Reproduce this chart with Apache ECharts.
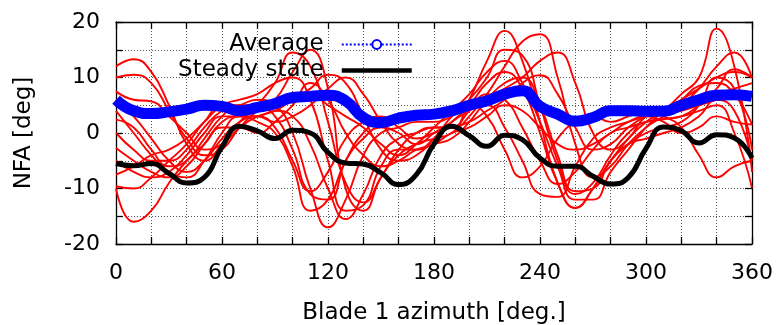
<!DOCTYPE html>
<html>
<head>
<meta charset="utf-8">
<script src="https://cdn.jsdelivr.net/npm/echarts@6/dist/echarts.min.js"></script>
<style>
html, body { margin: 0; padding: 0; background: #fff; }
#chart { width: 779px; height: 325px; }
</style>
</head>
<body>
<div id="chart"></div>
<script>
var azimuth = [0, 10, 20, 30, 40, 50, 60, 70, 80, 90, 100, 110, 120, 130, 140, 150, 160, 170, 180,
  190, 200, 210, 220, 230, 240, 250, 260, 270, 280, 290, 300, 310, 320, 330, 340, 350, 360];

var average = [6.0, 4.0, 3.5, 3.8, 4.3, 5.0, 4.8, 4.0, 4.6, 5.3, 6.4, 6.6, 6.8, 5.8, 2.8, 1.9, 2.7, 3.2, 3.4,
  4.0, 5.0, 5.8, 7.0, 7.6, 4.8, 3.4, 2.1, 2.8, 4.0, 4.0, 3.9, 3.9, 5.0, 6.0, 6.8, 6.9, 6.6];

var steady = [-5.5, -5.9, -5.5, -7.3, -9.0, -8.0, -2.5, 1.2, 0.4, -1.0, 0.5, 0.0, -3.5, -5.4, -5.6, -7.2, -9.3, -7.5, -2.0,
  1.2, -0.5, -2.4, -0.4, -1.2, -4.5, -6.0, -6.0, -7.8, -9.2, -8.0, -2.8, 1.1, 0.4, -1.8, -0.3, -0.9, -4.5];

// individual revolutions
var run1 = [12, 13.3, 11, 5, -2, -5, -2, 2, 5, 9, 14.5, 12, 2, -9, -12.5, -8, -3, 0, 1,
  1, 6, 13, 18.4, 13, 2, -9, -13.5, -10, -5, -1, 2, 4, 7, 10, 18.8, 12, -7];
var run2 = [10, 10.5, 9, 4, -1, -4, -3, 1, 4, 6, 11, 15, 8, -10, -14, -8, -4, -2, -1,
  0, 3, 7, 12, 16.5, 17.8, 10, -2, -8, -6, -2, 1, 3, 5, 8, 12, 14.5, 9.9];
var run3 = [7.5, 6, 5.7, 3, 0, -3, -2, 1, 3, 4, 6, 8, 10.5, 9, 3, -3, -5, -4, -1,
  3, 6, 10, 15, 14, 5, -5, -11, -9, -4, 0, 2, 2.5, 3, 5, 8, 11.5, 10];
var run4 = [6, 3, -1, -5, -7, -5, -1, 2, 3, 2, 3, 5, 8, 10, 7, 2, -2, -3, -1,
  2, 4, 6, 8, 10, 13, 14.5, 9, 0, -3, -1, 3, 4, 6, 8.5, 9, 7, 1.5];
var run5 = [4, 0, -4, -7, -8, -5, 0, 3, 3, 1, -5, -10.5, -7, -1, 2, 3, 1, -1, 0,
  1, 2, 4, 6, 9, 10.4, 7, 1, -3, -2, 1, 3, 4, 5, 6, 7, 8, 9];
var run6 = [2.4, 1, -3, -6, -5, -1, 3, 5, 5, 3, -3, -11, -12, -5, 0, 2, 2, 3, 4,
  4, 5, 3, -3, -8, -6, -1, 2, 3, 2, 3, 4, 3, 1, -4, -8, -6, -5];
var run7 = [0, -3, -5, -5, -3, 1, 4, 5, 6, 5, 0, -10, -17, -12, -4, 0, 1, 2, 2,
  3, 5, 5, 1, -5, -11, -11.5, -6, -1, 1, 2, 3, 3.5, 4, 5, 6, 7, 7.2];
var run8 = [-2.7, -5, -7, -8, -6, -2, 2, 3, 3, 4, 3, -2, -10, -15.5, -11, -4, -1, 0, 1,
  1, 4, 7, 6, 1, -5, -9.2, -7, -3, 0, 1, 2, 2.5, 3, 4, 5, 0, -9.9];
var run9 = [-5, -7, -8, -7, -4, 0, 3, 3, 2, 0, -6, -14, -12, -5, -1, 1, 0, -2, 0,
  2, 5, 9, 11, 8, 0, -9, -13.5, -10, -5, -2, 0, 1, 2, 5, 10, 8, -3];
var run10 = [-7.5, -6, -4, -3, -1, 2, 5, 6, 7, 9, 10, 6, -5, -14, -13, -6, -3, -3, -2,
  -1, 2, 6, 9, 10, 5, -4, -10.5, -10, -5, -2, -1, 0, 1, 3, 6, 4, -5];
var run11 = [-9.6, -10, -8, -5, -2, 2, 5, 5, 4, 5, 7, 7, 5, 3, 1, -2, -4, -2, 1,
  4, 7, 11, 13, 9, 2, -6, -12, -12, -7, -3, 1, 4, 6, 8, 10, 11, 10];
var run12 = [-10, -16, -14, -9, -5, -2, 1, 1, 0, 2, 5, 9, 6, 0, -4, -6, -5, -3, -2,
  0, 1, 3, 5, 4, 1, -2, -3, -2, 0, 2, 3, 2, 0, 1, 3, 2, 1.5];

var runs = [run1, run2, run3, run4, run5, run6, run7, run8, run9, run10, run11, run12];

var font = 'DejaVu Sans';
var dots = { color: '#555', width: 1, type: [1, 2] };
var black = { color: '#000', width: 1.3 };

function pairs(vals) {
  return azimuth.map(function (a, i) { return [a, vals[i]]; });
}

var series = runs.map(function (r, i) {
  return {
    name: 'run' + (i + 1),
    type: 'line',
    data: pairs(r),
    smooth: 0.5,
    symbol: 'none',
    lineStyle: { color: '#ff0000', width: 1.9 },
    z: 2
  };
});
series.push({
  name: 'Steady state',
  type: 'line',
  data: pairs(steady),
  smooth: 0.5,
  symbol: 'none',
  itemStyle: { color: '#000' },
  lineStyle: { color: '#000', width: 5 },
  z: 3
});
series.push({
  name: 'Average',
  type: 'line',
  data: pairs(average),
  smooth: 0.5,
  symbol: 'emptyCircle',
  showSymbol: false,
  itemStyle: { color: '#0000ff' },
  lineStyle: { color: '#0000ff', width: 11 },
  z: 4
});

// label only every 60 deg / 10 deg, ticks and grid at 20 deg / 5 deg
function xLab(v) { return v % 60 === 0 ? String(v) : ''; }
function yLab(v) { return v % 10 === 0 ? String(v) : ''; }

var frameAxis = {
  axisLine: { show: true, onZero: false, lineStyle: black },
  axisTick: { show: true, inside: true, length: 7, lineStyle: black },
  axisLabel: { show: false },
  splitLine: { show: false }
};

var chart = echarts.init(document.getElementById('chart'), null, { renderer: 'canvas' });
chart.setOption({
  animation: false,
  backgroundColor: '#fff',
  grid: { left: 116, right: 27, top: 22, bottom: 81, outerBoundsMode: 'none' },
  legend: {
    orient: 'vertical',
    align: 'right',
    right: 360,
    top: 28,
    itemGap: 3,
    itemWidth: 70,
    itemHeight: 11,
    textStyle: { fontFamily: font, fontSize: 23, color: '#000', padding: [0, 13, 0, 0] },
    data: [
      { name: 'Average', lineStyle: { width: 2, type: [2, 2] } },
      { name: 'Steady state', lineStyle: { width: 4.5 }, itemStyle: { opacity: 0 } }
    ]
  },
  xAxis: [{
    type: 'value', min: 0, max: 360, interval: 20,
    name: 'Blade 1 azimuth [deg.]', nameLocation: 'middle', nameGap: 58,
    nameTextStyle: { fontFamily: font, fontSize: 23, color: '#000' },
    axisLine: { show: true, onZero: false, lineStyle: black },
    axisTick: { inside: true, length: 7, lineStyle: black },
    axisLabel: { fontFamily: font, fontSize: 22, color: '#000', margin: 18, formatter: xLab },
    splitLine: { show: true, lineStyle: dots }
  }, Object.assign({ type: 'value', position: 'top', min: 0, max: 360, interval: 20 }, frameAxis)],
  yAxis: [{
    type: 'value', min: -20, max: 20, interval: 5,
    name: 'NFA [deg]', nameLocation: 'middle', nameGap: 80,
    nameTextStyle: { fontFamily: font, fontSize: 23, color: '#000' },
    axisLine: { show: true, onZero: false, lineStyle: black },
    axisTick: { show: true, inside: true, length: 7, lineStyle: black },
    axisLabel: { fontFamily: font, fontSize: 22, color: '#000', margin: 16, formatter: yLab },
    splitLine: { show: true, lineStyle: dots }
  }, Object.assign({ type: 'value', position: 'right', min: -20, max: 20, interval: 5 }, frameAxis)],
  series: series
});
</script>
</body>
</html>
